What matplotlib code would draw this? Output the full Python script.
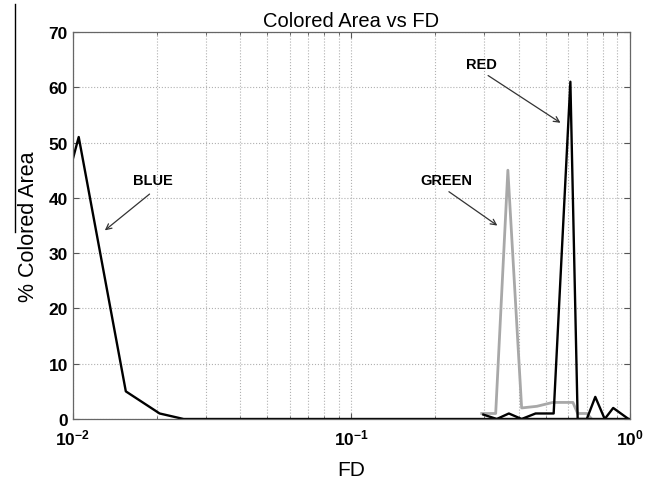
import matplotlib
matplotlib.use("Agg")
import matplotlib.pyplot as plt
from matplotlib.lines import Line2D
from matplotlib.ticker import LogLocator, NullFormatter

plt.rcParams['font.family'] = ['Liberation Sans', 'DejaVu Sans']

# blue-pixel curve (drawn black in the original)
blue_fd = [0.01, 0.0105, 0.0155, 0.0205, 0.025, 1.0]
blue_pct = [47, 51, 5, 1, 0, 0]

# red-pixel curve (black)
red_fd = [0.298, 0.333, 0.368, 0.409, 0.459, 0.533, 0.612, 0.650, 0.701, 0.752, 0.813, 0.872, 0.99]
red_pct = [0.8, 0, 1, 0, 1, 1, 61, 0, 0, 4, 0, 2, 0]

# green-pixel curve (gray)
green_fd = [0.294, 0.330, 0.365, 0.409, 0.464, 0.529, 0.625, 0.650, 0.701, 0.73]
green_pct = [1, 1, 45, 2, 2.3, 3, 3, 1, 1, 0]

yticks = [0, 10, 20, 30, 40, 50, 60, 70]

fig = plt.figure(figsize=(6.56, 4.85), dpi=100)
ax = fig.add_axes([0.111, 0.134, 0.849, 0.798])

ax.plot(green_fd, green_pct, color='#a8a8a8', lw=2)
ax.plot(blue_fd, blue_pct, color='black', lw=1.7)
ax.plot(red_fd, red_pct, color='black', lw=1.7)

ax.set_xscale('log')
ax.set_xlim(0.01, 1)
ax.set_ylim(0, 70)
ax.set_yticks(yticks)
ax.xaxis.set_minor_locator(LogLocator(base=10, subs=range(2, 10)))
ax.xaxis.set_minor_formatter(NullFormatter())

ax.grid(True, which='both', axis='x', ls=':', color='#b0b0b0', lw=0.8)
ax.grid(True, which='major', axis='y', ls=':', color='#b0b0b0', lw=0.8)
ax.tick_params(which='both', direction='in', top=True, right=True, color='#555555')
ax.tick_params(which='major', length=4, labelsize=12.5)
ax.tick_params(axis='x', which='major', pad=6)
ax.tick_params(which='minor', length=2)
for lab in ax.get_yticklabels() + ax.get_xticklabels():
    lab.set_fontweight('bold')
for s in ax.spines.values():
    s.set_color('#666666')
    s.set_linewidth(0.9)

ax.set_title('Colored Area vs FD', fontsize=14.5, pad=4)
ax.set_xlabel('FD', fontsize=15, labelpad=9)
ax.set_ylabel('% Colored Area', fontsize=15.5, labelpad=7)

arrow = dict(arrowstyle='->', color='#333333', lw=0.9)
lab_kw = dict(fontsize=10.5, fontweight='bold', ha='center', va='center')
ax.text(0.0194, 43.2, 'BLUE', **lab_kw)
ax.annotate('', xy=(0.0128, 33.8), xytext=(0.0192, 41.0), arrowprops=arrow)
ax.text(0.220, 43.2, 'GREEN', **lab_kw)
ax.annotate('', xy=(0.341, 34.7), xytext=(0.220, 41.4), arrowprops=arrow)
ax.text(0.294, 64.2, 'RED', **lab_kw)
ax.annotate('', xy=(0.575, 53.3), xytext=(0.304, 62.4), arrowprops=arrow)

# stray vertical line at the left edge of the scanned figure
fig.add_artist(Line2D([15 / 656, 15 / 656], [1 - 5 / 485, 1 - 233 / 485],
                      transform=fig.transFigure, color='black', lw=1))

fig.savefig('out.png', dpi=100)
